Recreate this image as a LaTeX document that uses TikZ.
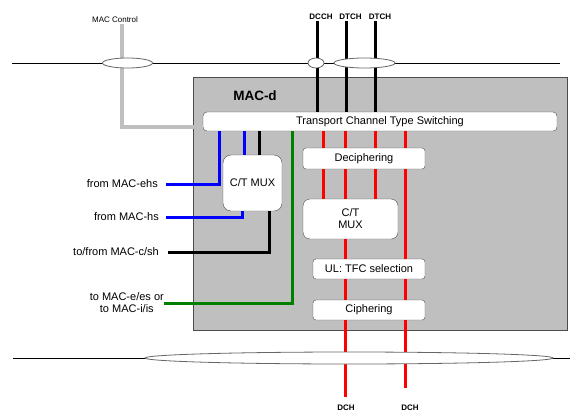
\documentclass[tikz,border=0pt]{standalone}
\usepackage{fontspec}
\setmainfont{Liberation Sans}
\begin{document}
\begin{tikzpicture}[x=1pt, y=-1pt,
    fnbox/.style={draw=black!70, fill=white, inner sep=0pt, align=center, font=\fontsize{11}{12}\selectfont},
    chlbl/.style={inner sep=1pt, font=\fontsize{8}{9}\selectfont\bfseries},
    sidelbl/.style={anchor=east, inner sep=0pt, align=center, font=\fontsize{11}{12}\selectfont},
    blkch/.style={line width=3pt},
    redch/.style={red, line width=3pt},
    bluech/.style={blue, line width=3pt},
    greench/.style={green!50!black, line width=3pt},
    ctrlch/.style={black!25, line width=3.5pt},
    bus/.style={draw=black!60, fill=white, line width=0.8pt}]
    \useasboundingbox (0,0) rectangle (585,417);

    % MAC-d entity
    \node[draw=black!70, fill=black!25, minimum width=374pt, minimum height=253pt, inner sep=0pt] (macd) at (380,203.5) {};
    \node[inner sep=0pt, font=\fontsize{13.5}{15}\selectfont\bfseries] (macdlbl) at (255,96) {MAC-d};

    % function blocks
    \node[fnbox, rounded corners=4pt, minimum width=354pt, minimum height=19pt] (tcts) at (380,121.5) {Transport Channel Type Switching};
    \node[fnbox, rounded corners=8pt, minimum width=59pt, minimum height=56pt] (cmux) at (252.5,183) {C/T MUX};
    \node[fnbox, rounded corners=3pt, minimum width=122pt, minimum height=21pt] (dec) at (364,158.5) {Deciphering};
    \node[fnbox, rounded corners=7pt, minimum width=95pt, minimum height=40pt] (ctm) at (350.5,219) {C/T\\MUX};
    \node[fnbox, rounded corners=3pt, minimum width=112pt, minimum height=20pt] (tfc) at (369,269) {UL: TFC selection};
    \node[fnbox, rounded corners=3pt, minimum width=112pt, minimum height=20pt] (ciph) at (369,310) {Ciphering};

    % channel labels
    \node[inner sep=1pt, font=\fontsize{8}{9}\selectfont] (ctrl) at (115,20) {MAC Control};
    \node[chlbl] (dcch) at (321,17) {DCCH};
    \node[chlbl] (dtcha) at (350.5,17) {DTCH};
    \node[chlbl] (dtchb) at (380,17) {DTCH};
    \node[chlbl] (dcha) at (346,408) {DCH};
    \node[chlbl] (dchb) at (410,408) {DCH};
    \node[sidelbl] (ehs) at (166,184) {from MAC-ehs\hspace{8pt}};
    \node[sidelbl] (hs) at (166,217) {from MAC-hs\hspace{7pt}};
    \node[sidelbl] (csh) at (168,252) {to/from MAC-c/sh\hspace{9pt}};
    \node[sidelbl] (emac) at (164,303) {to MAC-e/es or\\to MAC-i/is\hspace{2pt}};
    \coordinate (endA) at (345,397);
    \coordinate (endB) at (405,388);

    % upper channels
    \draw[ctrlch] (ctrl.south -| 122,0) |- ([yshift=-5.5pt]tcts.west);
    \draw[blkch] (dcch.south -| 317,0) -- (tcts.north -| 317,0);
    \draw[blkch] (dtcha.south -| 346,0) -- (tcts.north -| 346,0);
    \draw[blkch] (dtchb.south -| 375,0) -- (tcts.north -| 375,0);

    % left side
    \draw[bluech] (tcts.south -| 219,0) |- (ehs.east);
    \draw[bluech] (tcts.south -| 244,0) -- (cmux.north -| 244,0);
    \draw[bluech] (cmux.south -| 242,0) |- (hs.east);
    \draw[blkch] (tcts.south -| 259,0) -- (cmux.north -| 259,0);
    \draw[blkch] (cmux.south -| 269,0) |- (csh.east);
    \draw[greench] (tcts.south -| 292,0) |- (emac.east);

    % dedicated channels
    \foreach \cx in {323,345,375,405}
        \draw[redch] (tcts.south -| \cx,0) -- (dec.north -| \cx,0);
    \foreach \cx in {323,345,375}
        \draw[redch] (dec.south -| \cx,0) -- (ctm.north -| \cx,0);
    \draw[redch] (dec.south -| 405,0) -- (tfc.north -| 405,0);
    \draw[redch] (ctm.south -| 345,0) -- (tfc.north -| 345,0);
    \foreach \cx in {345,405}
        \draw[redch] (tfc.south -| \cx,0) -- (ciph.north -| \cx,0);
    \draw[redch] (ciph.south -| 345,0) -- (endA);
    \draw[redch] (ciph.south -| 405,0) -- (endB);

    % layer boundaries
    \draw (12,63) -- (560,63);
    \draw (13,358) -- (570,358);
    \draw[bus] (127.5,63) ellipse [x radius=25, y radius=5];
    \draw[bus] (316,63) ellipse [x radius=8, y radius=5];
    \draw[bus] (364.5,63) ellipse [x radius=30.5, y radius=5];
    \draw[bus] (349,358) ellipse [x radius=204, y radius=6];
\end{tikzpicture}
\end{document}
